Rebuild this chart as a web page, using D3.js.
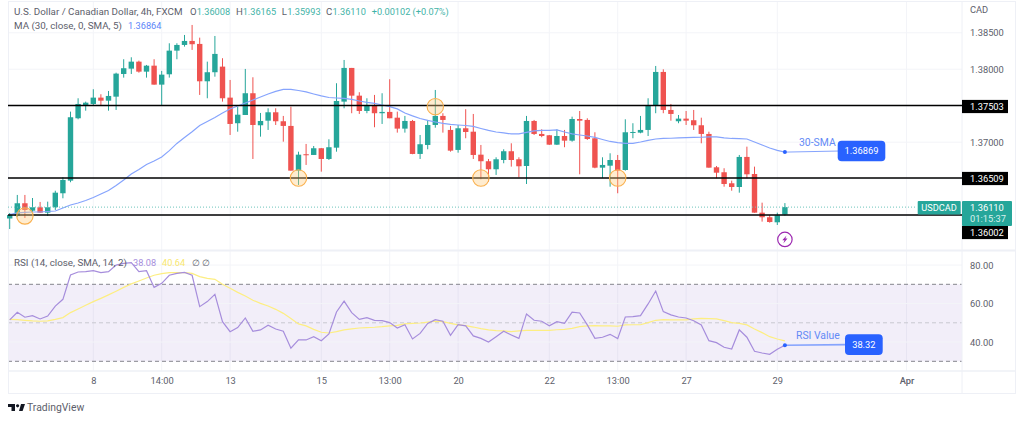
<!DOCTYPE html>
<html>
<head>
<meta charset="utf-8">
<script src="https://cdn.jsdelivr.net/npm/d3@7"></script>
<style>
body { margin: 0; background: #fff; }
text { font-family: Roboto, "Noto Sans", sans-serif; }
</style>
</head>
<body>
<div id="chart"></div>
<script>
// candles, oldest first
var opens = [1.35954,1.35989,1.36163,1.36061,1.36108,1.36034,1.36108,1.36300,1.36473,1.37328,1.37506,1.37524,1.37611,1.37569,1.37624,1.37935,1.38008,1.38104,1.37967,1.38049,1.37789,1.37931,1.38255,1.38333,1.38388,1.38347,1.37835,1.37959,1.38036,1.37611,1.37260,1.37373,1.37671,1.37232,1.37295,1.37410,1.37287,1.37223,1.36610,1.36835,1.36825,1.36917,1.36770,1.36925,
  1.37556,1.38018,1.37638,1.37428,1.37510,1.37397,1.37415,1.37336,1.37186,1.37291,1.36839,1.36962,1.37236,1.37360,1.37168,1.36894,1.37191,1.37144,1.36829,1.36739,1.36629,1.36756,1.36876,1.36766,1.36674,1.37291,1.37113,1.37095,1.36966,1.37085,1.37021,1.37318,1.37305,1.37054,1.36651,1.36678,1.36756,1.36619,1.37127,1.37131,1.37168,1.37497,1.37963,
  1.37442,1.37287,1.37323,1.37301,1.37232,1.37113,1.36656,1.36588,1.36437,1.36386,1.36798,1.36564,1.36034,1.35971,1.35902,1.36008]
var highs = [1.36030,1.36277,1.36277,1.36235,1.36181,1.36185,1.36335,1.36519,1.37419,1.37602,1.37556,1.37726,1.37657,1.37702,1.37953,1.38137,1.38164,1.38118,1.38059,1.38137,1.37977,1.38356,1.38356,1.38470,1.38607,1.38433,1.38104,1.38456,1.38151,1.37853,1.37483,1.38004,1.37890,1.37401,1.37465,1.37465,1.37360,1.37487,1.36870,1.36976,1.36948,1.36921,1.37040,1.37808,
  1.38127,1.38018,1.37685,1.37602,1.37648,1.37671,1.37863,1.37419,1.37360,1.37305,1.37099,1.37305,1.37716,1.37397,1.37223,1.37236,1.37452,1.37387,1.36962,1.36770,1.36793,1.36903,1.36985,1.36793,1.37360,1.37305,1.37177,1.37099,1.37177,1.37168,1.37350,1.37428,1.37328,1.37136,1.36793,1.36848,1.36825,1.37314,1.37260,1.37360,1.37602,1.38045,1.37999,
  1.37524,1.37373,1.37428,1.37442,1.37336,1.37144,1.36674,1.36643,1.36473,1.36825,1.36939,1.36665,1.36171,1.36002,1.36034,1.36165]
var lows = [1.35810,1.35975,1.35961,1.36043,1.36030,1.35989,1.36071,1.36231,1.36451,1.37314,1.37432,1.37497,1.37497,1.37432,1.37442,1.37885,1.37935,1.37953,1.37885,1.37789,1.37510,1.37885,1.38137,1.38310,1.38265,1.37648,1.37602,1.37898,1.37556,1.37099,1.37144,1.37373,1.36770,1.37076,1.37168,1.37236,1.37007,1.36610,1.36414,1.36688,1.36825,1.36596,1.36756,1.36870,
  1.37465,1.37397,1.37387,1.37397,1.37205,1.37250,1.37328,1.37131,1.37131,1.36835,1.36770,1.36903,1.37199,1.37131,1.36870,1.36856,1.37054,1.36770,1.36492,1.36459,1.36551,1.36711,1.36665,1.36519,1.36427,1.37099,1.37068,1.36962,1.36962,1.36931,1.37007,1.36560,1.37031,1.36643,1.36510,1.36390,1.36300,1.36610,1.37054,1.37122,1.37085,1.37397,1.37397,
  1.37295,1.37260,1.37236,1.37168,1.36985,1.36651,1.36506,1.36390,1.36335,1.36308,1.36506,1.36034,1.35911,1.35897,1.35865,1.35993]
var closes = [1.36002,1.36163,1.36071,1.36108,1.36034,1.36108,1.36308,1.36482,1.37342,1.37524,1.37542,1.37611,1.37569,1.37634,1.37940,1.38014,1.38104,1.37967,1.38049,1.37789,1.37926,1.38255,1.38333,1.38388,1.38343,1.37835,1.37959,1.38210,1.37602,1.37250,1.37377,1.37671,1.37236,1.37291,1.37410,1.37287,1.37223,1.36610,1.36829,1.36821,1.36917,1.36770,1.36931,1.37565,
  1.38018,1.37638,1.37428,1.37501,1.37397,1.37415,1.37328,1.37186,1.37291,1.36839,1.36972,1.37236,1.37360,1.37305,1.36884,1.37191,1.37140,1.36825,1.36739,1.36629,1.36766,1.36876,1.36756,1.36670,1.37291,1.37113,1.37085,1.36966,1.37085,1.37021,1.37318,1.37295,1.37044,1.36651,1.36688,1.36756,1.36610,1.37136,1.37140,1.37168,1.37497,1.37963,1.37442,
  1.37387,1.37323,1.37295,1.37232,1.37113,1.36651,1.36582,1.36427,1.36386,1.36798,1.36560,1.36034,1.35971,1.35906,1.35998,1.36110]
var sma30 = [1.36009,1.36030,1.36037,1.36043,1.36043,1.36050,1.36057,1.36098,1.36139,1.36167,1.36201,1.36242,1.36290,1.36338,1.36407,1.36482,1.36564,1.36626,1.36695,1.36743,1.36798,1.36884,1.36983,1.37065,1.37144,1.37229,1.37284,1.37339,1.37401,1.37456,1.37497,1.37538,1.37579,1.37620,1.37661,1.37696,1.37723,1.37723,1.37709,1.37689,1.37661,1.37634,1.37613,1.37606,
  1.37600,1.37586,1.37565,1.37545,1.37531,1.37510,1.37487,1.37456,1.37401,1.37360,1.37325,1.37298,1.37277,1.37257,1.37243,1.37236,1.37229,1.37216,1.37188,1.37161,1.37140,1.37127,1.37113,1.37113,1.37134,1.37154,1.37161,1.37161,1.37168,1.37140,1.37113,1.37099,1.37085,1.37065,1.37037,1.37010,1.36994,1.36985,1.36985,1.37003,1.37024,1.37044,1.37051,
  1.37054,1.37058,1.37062,1.37065,1.37068,1.37072,1.37072,1.37058,1.37051,1.37048,1.37044,1.37003,1.36962,1.36921,1.36887,1.36864]
var rsi = [51.5,55.5,52.9,53.7,52,53.5,58.7,62.2,74.8,76.4,76.6,77.1,76.1,76.6,80,80.9,81.3,76.6,77.1,68.4,70.5,74.7,75.7,76.2,74.7,58.4,61,64.8,50.6,45.4,47.5,52.5,45.6,46.3,48.7,46.8,45.6,36.8,41.1,41.1,42.8,40.7,44.2,55.6,
  61.3,55.3,51.8,52.7,51.3,51.1,50.1,47.3,49,41.6,44.5,49.7,51.6,50.8,43.5,49,48.4,43.2,41.9,40,42.8,45.6,43.7,41.9,54.6,51.3,50.8,48.4,50.6,49.7,55.5,55.1,48.9,41.9,42.5,44,41.8,53,53.2,53.7,59.8,66.5,55.8,
  54.1,53,52.5,51.1,48.9,40.7,39.7,37.3,36.4,46.3,42.5,35.2,34.3,33.6,36.3,38.32]
var rsiMa = [51.8,51.6,51.3,51,50.8,51,51.8,52.7,55.3,57.2,59.1,61,62.7,64.5,66.4,68.4,70.2,71.7,73.3,74.7,75.5,76.1,76.1,76.1,75.7,74,73.1,72.6,70,67.9,65.8,63.9,61.7,60.1,58.7,57,54.9,52.2,49.4,48.4,46.6,45.1,44.7,45.4,
  46.3,46.8,47.3,47.5,47.7,48,48.4,48.7,49.4,49.7,49.9,50.4,50.8,50.6,49.7,48.9,48.5,47.8,47,46.3,45.9,45.8,45.4,45.8,46.1,46.1,46.1,46.1,46.4,46.6,47.1,48,48.4,48.5,48.4,48.4,48.2,48.9,49,49,50.1,51.3,51.6,
  51.5,51.5,51.5,52,52.3,52.2,52,51.1,50.1,49.7,48.9,46.8,44.9,42.8,41.6,40.64]

var levels = [1.37503, 1.36509, 1.36002]
var levelLabelY = [106.5, 178.5, 232.5]
var markIndex = [2, 38, 56, 62, 80]
var markPrice = [1.35989, 1.36509, 1.37487, 1.36509, 1.36509]
var lastPrice = 1.36110

var priceTicks = [1.385, 1.38, 1.37]
var priceGrid = [1.385, 1.38, 1.375, 1.37, 1.365, 1.36]
var rsiTicks = [80, 60, 40]
var rsiBands = [70, 50, 30]
var timeIndex = [11, 20, 29, 41, 50, 59, 71, 80, 89, 101, 118]
var timeLabels = ["8", "14:00", "13", "15", "13:00", "20", "22", "13:00", "27", "29", "Apr"]

var teal = "#26a69a", red = "#ef5350", blue = "#2962ff", border = "#eef0f6", grid = "#f3f4f8"
var ink = "#5d606b"
var left = 8, plotRight = 962, right = 1016, rsiTop = 251, rsiBottom = 371, axisBottom = 394

var x = d3.scaleLinear().domain([0, 102]).range([9.7, 784.9])
var y = d3.scaleLinear().domain([1.36002, 1.37503]).range([215, 105.5])
var yRsi = d3.scaleLinear().domain([30, 70]).range([361.3, 284.3])

var svg = d3.select("#chart").append("svg")
  .attr("width", 1024).attr("height", 421)
  .style("display", "block")

function hline(yy, x1, x2, color, w, dash) {
  svg.append("line").attr("x1", x1).attr("x2", x2).attr("y1", yy).attr("y2", yy)
    .attr("stroke", color).attr("stroke-width", w).attr("stroke-dasharray", dash || null)
}
function vline(xx, y1, y2, color) {
  svg.append("line").attr("x1", xx).attr("x2", xx).attr("y1", y1).attr("y2", y2)
    .attr("stroke", color).attr("stroke-width", 1)
}
function label(str, xx, yy, color, size, anchor, weight) {
  return svg.append("text").attr("x", xx).attr("y", yy).attr("dy", "0.35em")
    .attr("fill", color).attr("font-size", size)
    .attr("text-anchor", anchor || "start").attr("font-weight", weight || 400).text(str)
}

// grid
timeIndex.forEach(function(i) {
  vline(x(i), 1, 250, grid)
  vline(x(i), rsiTop, rsiBottom, grid)
})
priceGrid.forEach(function(p) { hline(y(p), left, plotRight, grid, 1) })

// rsi band
svg.append("rect").attr("x", left).attr("width", plotRight - left)
  .attr("y", yRsi(70)).attr("height", yRsi(30) - yRsi(70))
  .attr("fill", "#7e57c2").attr("fill-opacity", 0.1)
rsiTicks.forEach(function(v) { hline(yRsi(v), left, plotRight, grid, 1) })
rsiBands.forEach(function(v) {
  hline(yRsi(v), left, plotRight, v == 50 ? "#c8c8d0" : "#85858d", 1, "4 3")
})

// frame
svg.append("rect").attr("x", left + .5).attr("y", 1.5).attr("width", right - left - 1).attr("height", axisBottom - 2)
  .attr("fill", "none").attr("stroke", border)
hline(250.5, left, right, border, 2)
hline(rsiBottom, left, right, border, 1.5)
vline(plotRight, 1, axisBottom, border)

// candles
var candles = svg.append("g").selectAll("g").data(opens).enter().append("g")
candles.append("line")
  .attr("x1", function(d, i) { return x(i) }).attr("x2", function(d, i) { return x(i) })
  .attr("y1", function(d, i) { return y(highs[i]) }).attr("y2", function(d, i) { return y(lows[i]) })
  .attr("stroke", function(d, i) { return closes[i] >= d ? teal : red })
  .attr("stroke-width", 1)
candles.append("rect")
  .attr("x", function(d, i) { return x(i) - 2.7 }).attr("width", 5.4)
  .attr("y", function(d, i) { return y(Math.max(d, closes[i])) })
  .attr("height", function(d, i) { return Math.max(1, Math.abs(y(d) - y(closes[i]))) })
  .attr("fill", function(d, i) { return closes[i] >= d ? teal : red })

// 30 sma
var smaLine = d3.line().x(function(d, i) { return x(i) }).y(function(d) { return y(d) })
svg.append("path").attr("d", smaLine(sma30)).attr("fill", "none")
  .attr("stroke", "#86a4fd").attr("stroke-width", 1.2)

// support and resistance
levels.forEach(function(p) { hline(y(p), left, plotRight, "#000", 1.6) })
hline(y(lastPrice), left, 917, "#6cc4bb", 1, "1 2")

// touches
svg.append("g").selectAll("circle").data(markIndex).enter().append("circle")
  .attr("cx", function(d) { return x(d) })
  .attr("cy", function(d, i) { return y(markPrice[i]) })
  .attr("r", 8.2)
  .attr("fill", "#ffcc80").attr("fill-opacity", 0.38)
  .attr("stroke", "#fab04d").attr("stroke-width", 1.1)

// rsi lines
var rsiLine = d3.line().x(function(d, i) { return x(i) }).y(function(d) { return yRsi(d) })
svg.append("path").attr("d", rsiLine(rsiMa)).attr("fill", "none")
  .attr("stroke", "#fdee82").attr("stroke-width", 1.2)
svg.append("path").attr("d", rsiLine(rsi)).attr("fill", "none")
  .attr("stroke", "#a68ddc").attr("stroke-width", 1.2)

// right axis
var priceAxis = d3.axisRight(y).tickValues(priceTicks).tickSize(0).tickPadding(8)
  .tickFormat(d3.format(".5f"))
var gp = svg.append("g").attr("transform", "translate(" + plotRight + ",0)").call(priceAxis)
gp.select(".domain").remove()
gp.selectAll("text").attr("fill", ink).attr("font-size", 9.3)

var rsiAxis = d3.axisRight(yRsi).tickValues(rsiTicks).tickSize(0).tickPadding(8)
  .tickFormat(d3.format(".2f"))
var gr = svg.append("g").attr("transform", "translate(" + plotRight + ",0)").call(rsiAxis)
gr.select(".domain").remove()
gr.selectAll("text").attr("fill", ink).attr("font-size", 9.3)

label("CAD", 970, 10, ink, 9.3)

// time axis
var timeAxis = d3.axisBottom(x).tickValues(timeIndex).tickSize(0).tickPadding(6)
  .tickFormat(function(d, i) { return timeLabels[i] })
var gt = svg.append("g").attr("transform", "translate(0," + rsiBottom + ")").call(timeAxis)
gt.select(".domain").remove()
gt.selectAll("text").attr("fill", ink).attr("font-size", 9.3)
  .attr("font-weight", function(d, i) { return timeLabels[i] == "Apr" ? 500 : 400 })

// level labels
levels.forEach(function(p, i) {
  svg.append("rect").attr("x", plotRight).attr("y", levelLabelY[i] - 6.6)
    .attr("width", 46).attr("height", 13.2).attr("fill", "#000")
  label(d3.format(".5f")(p), plotRight + 8, levelLabelY[i], "#fff", 9.3)
})

// last price label
svg.append("rect").attr("x", 917.7).attr("y", 201).attr("width", 43).attr("height", 13.4)
  .attr("fill", teal).attr("rx", 1)
label("USDCAD", 939, 207.8, "#fff", 9.2, "middle")
svg.append("rect").attr("x", plotRight).attr("y", 201).attr("width", 50).attr("height", 25)
  .attr("fill", teal).attr("rx", 1)
label(d3.format(".5f")(lastPrice), plotRight + 8, 207.8, "#fff", 9.3)
label("01:15:37", plotRight + 8, 219, "#d8f0ed", 9.3)

// callouts
function callout(i, yy, boxX, boxW, boxY, boxH, title, titleX, titleY, val, lineW) {
  svg.append("line").attr("x1", x(i)).attr("y1", yy).attr("x2", boxX + 2).attr("y2", boxY + boxH / 2)
    .attr("stroke", "#86a4fd").attr("stroke-width", lineW)
  svg.append("circle").attr("cx", x(i)).attr("cy", yy).attr("r", 2).attr("fill", blue)
  svg.append("rect").attr("x", boxX).attr("y", boxY).attr("width", boxW).attr("height", boxH)
    .attr("rx", 4).attr("fill", blue)
  label(val, boxX + boxW / 2, boxY + boxH / 2, "#fff", 9.3, "middle")
  label(title, titleX, titleY, "#648af6", 10.4)
}
callout(102, y(1.36864), 837.7, 47.6, 140.7, 20.6, "30-SMA", 799, 142.5, "1.36869", 1)
callout(102, yRsi(38.32), 845, 37.7, 334.3, 20.7, "RSI Value", 796, 335.7, "38.32", 1.6)

// lightning icon
var icon = svg.append("g").attr("transform", "translate(" + x(102) + ",239.4)")
icon.append("circle").attr("r", 7.2).attr("fill", "#fff").attr("stroke", "#9c27b0").attr("stroke-width", 1.2)
icon.append("path").attr("d", "M1.6,-4 L-2.6,0.8 L-0.4,0.8 L-1.6,4 L2.6,-0.8 L0.4,-0.8 Z").attr("fill", "#9c27b0")

// legend
label("U.S. Dollar / Canadian Dollar, 4h, FXCM", 14, 11.5, ink, 9.8)
var legendVals = [["O", "1.36008", 190, 6.7], ["H", "1.36165", 236, 6.7], ["L", "1.35993", 281.7, 5.5], ["C", "1.36110", 326, 6.4]]
legendVals.forEach(function(d) {
  label(d[0], d[2], 11.5, ink, 9.6)
  label(d[1], d[2] + d[3], 11.5, "#3fb3a7", 9.2)
})
label("+0.00102 (+0.07%)", 371.7, 11.5, "#3fb3a7", 9.2)
label("MA (30, close, 0, SMA, 5)", 14, 25.5, ink, 9.8)
label("1.36864", 128, 25.5, "#5c85f8", 9.2)
label("RSI (14, close, SMA, 14, 2)", 14, 262.5, ink, 9.8)
label("38.08", 133, 262.5, "#a68ddc", 9.2)
label("40.64", 162, 262.5, "#f8e76e", 9.2)
label("∅  ∅", 192, 262.5, ink, 9.2)

// logo
svg.append("path").attr("d", "M8,404 H15 V411 H11.5 V407 H8 Z M17.6,404.2 a1.6,1.6 0 1 0 .01,0 Z M19,411 L21,404 H25 L22.6,411 Z")
  .attr("fill", "#131722")
label("TradingView", 27, 407.6, ink, 10.4)
</script>
</body>
</html>
